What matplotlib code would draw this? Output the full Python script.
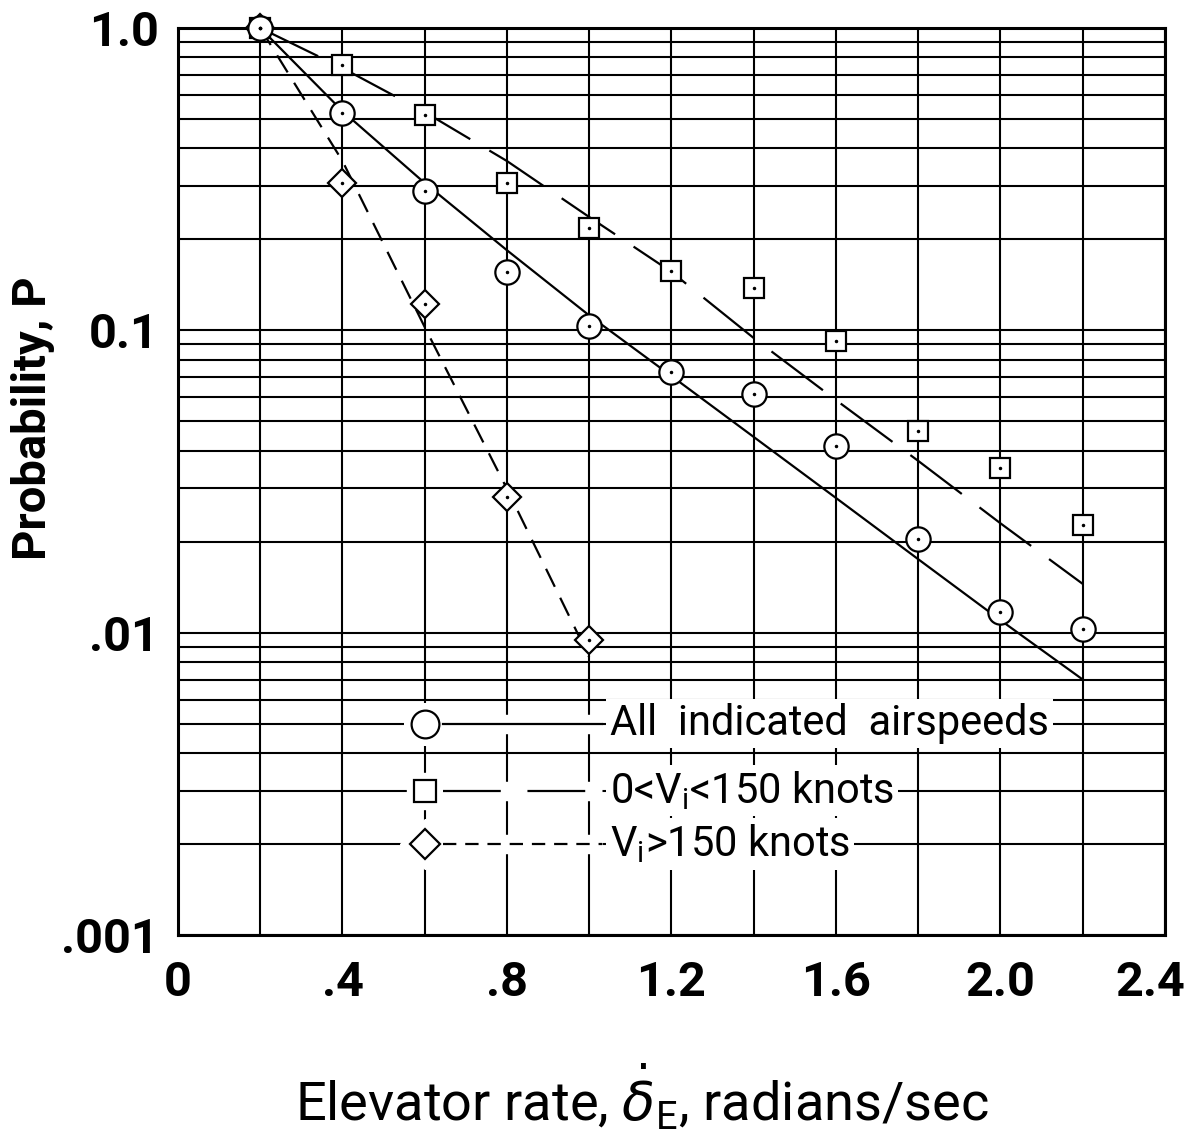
import numpy as np
import matplotlib
matplotlib.use("Agg")
import matplotlib.pyplot as plt
import matplotlib.transforms as mtransforms
from matplotlib.ticker import FixedLocator, FixedFormatter, LogLocator, MultipleLocator, NullFormatter

# --- data -------------------------------------------------------------
rate = [0.2, 0.4, 0.6, 0.8, 1.0, 1.2, 1.4, 1.6, 1.8, 2.0, 2.2]
p_all = [1.0, 0.523, 0.289, 0.156, 0.103, 0.0728, 0.0615, 0.0414, 0.0204, 0.0117, 0.0103]
p_low = [1.0, 0.755, 0.515, 0.307, 0.218, 0.157, 0.138, 0.0922, 0.0465, 0.035, 0.0227]
rate_high = [0.2, 0.4, 0.6, 0.8, 1.0]
p_high = [1.0, 0.307, 0.122, 0.0281, 0.00946]

# faired curves through each set
fair_all = [1.0, 0.531, 0.307, 0.184, 0.112, 0.0706, 0.0444, 0.0279, 0.0175, 0.0110, 0.0070]
fair_low = [1.0, 0.737, 0.527, 0.363, 0.237, 0.156, 0.0943, 0.0588, 0.037, 0.023, 0.0145]
fair_high = [1.0, 0.363, 0.1025, 0.0299, 0.0083]

x_ticks = [0, 0.4, 0.8, 1.2, 1.6, 2.0, 2.4]
x_tick_labels = ["0", ".4", ".8", "1.2", "1.6", "2.0", "2.4"]
y_ticks = [1.0, 0.1, 0.01, 0.001]
y_tick_labels = ["1.0", "0.1", ".01", ".001"]

legend_labels = ["All  indicated  airspeeds",
                 r"0<V$_{\mathregular{i}}$<150 knots",
                 r"V$_{\mathregular{i}}$>150 knots"]
legend_rows = [0.005, 0.003, 0.002]

# --- figure -----------------------------------------------------------
plt.rcParams["font.family"] = ["Roboto", "DejaVu Sans"]
plt.rcParams["mathtext.fontset"] = "dejavusans"

fig = plt.figure(figsize=(11.92, 11.46), dpi=100)
ax = fig.add_axes([0.1493, 0.1841, 0.8280, 0.7915])
ax.set_yscale("log")
ax.set_xlim(0, 2.4)
ax.set_ylim(0.001, 1.0)

ax.xaxis.set_major_locator(FixedLocator(x_ticks))
ax.xaxis.set_major_formatter(FixedFormatter(x_tick_labels))
ax.xaxis.set_minor_locator(MultipleLocator(0.2))
ax.yaxis.set_major_locator(FixedLocator(y_ticks))
ax.yaxis.set_major_formatter(FixedFormatter(y_tick_labels))
ax.yaxis.set_minor_locator(LogLocator(base=10, subs=np.arange(2, 10)))
ax.yaxis.set_minor_formatter(NullFormatter())

ax.set_axisbelow(True)
ax.grid(which="both", axis="both", color="black", lw=1.5)
ax.tick_params(which="both", length=0)
ax.tick_params(axis="x", labelsize=35, pad=18)
ax.tick_params(axis="y", labelsize=35, pad=14)
for lab in ax.get_xticklabels() + ax.get_yticklabels():
    lab.set_fontweight("bold")
# the last x label sits a little inside the page edge
last = ax.get_xticklabels()[-1]
last.set_transform(last.get_transform()
                   + mtransforms.ScaledTranslation(-0.15, 0, fig.dpi_scale_trans))
for sp in ax.spines.values():
    sp.set_linewidth(2.2)

# faired curves
lw = 1.6
ax.plot(rate, fair_all, color="black", lw=lw, zorder=3)
ax.plot(rate, fair_low, color="black", lw=lw, dashes=(29, 10), zorder=3)
ax.plot(rate_high, fair_high, color="black", lw=lw, dashes=(9, 5.5), zorder=3)

# data points (open symbols with a centre dot)
mk = dict(ls="none", mfc="white", mec="black", mew=1.6, clip_on=False)
ax.plot(rate_high, p_high, marker="D", ms=14, zorder=4, **mk)
ax.plot(rate, p_low, marker="s", ms=14, zorder=5, **mk)
ax.plot(rate, p_all, marker="o", ms=17.5, zorder=6, **mk)
for xs, ys in ((rate, p_all), (rate, p_low), (rate_high, p_high)):
    ax.plot(xs, ys, ls="none", marker=".", ms=3, color="black", zorder=7, clip_on=False)

# key
key_styles = [dict(marker="o", ms=20, dashes=()),
              dict(marker="s", ms=16, dashes=(26, 12)),
              dict(marker="D", ms=15, dashes=(6, 4))]
for yrow, label, st in zip(legend_rows, legend_labels, key_styles):
    ax.plot([0.6], [yrow], ls="none", marker=st["marker"], ms=st["ms"] + 10,
            mfc="white", mec="white", zorder=6)
    ax.plot([0.6], [yrow], ls="none", marker=st["marker"], ms=st["ms"],
            mfc="white", mec="black", mew=1.6, zorder=7)
    ax.plot([0.645, 1.03], [yrow, yrow], color="white", lw=14,
            solid_capstyle="butt", zorder=6)
    seg, = ax.plot([0.645, 1.03], [yrow, yrow], color="black", lw=lw, zorder=7)
    if st["dashes"]:
        seg.set_dashes(st["dashes"])
    ax.text(1.05, yrow, label, fontsize=30, ha="left", va="center", zorder=7,
            bbox=dict(fc="white", ec="none", pad=3))

# axis titles
ax.set_ylabel("Probability, P", fontsize=34, fontweight="bold")
ax.yaxis.set_label_coords(-0.125, 0.57)
ax.set_xlabel(r"Elevator rate, $\dot{\delta}_{\mathregular{E}}$, radians/sec", fontsize=39)
ax.xaxis.set_label_coords(0.47, -0.14)

fig.savefig("out.png", dpi=100, facecolor="white")
